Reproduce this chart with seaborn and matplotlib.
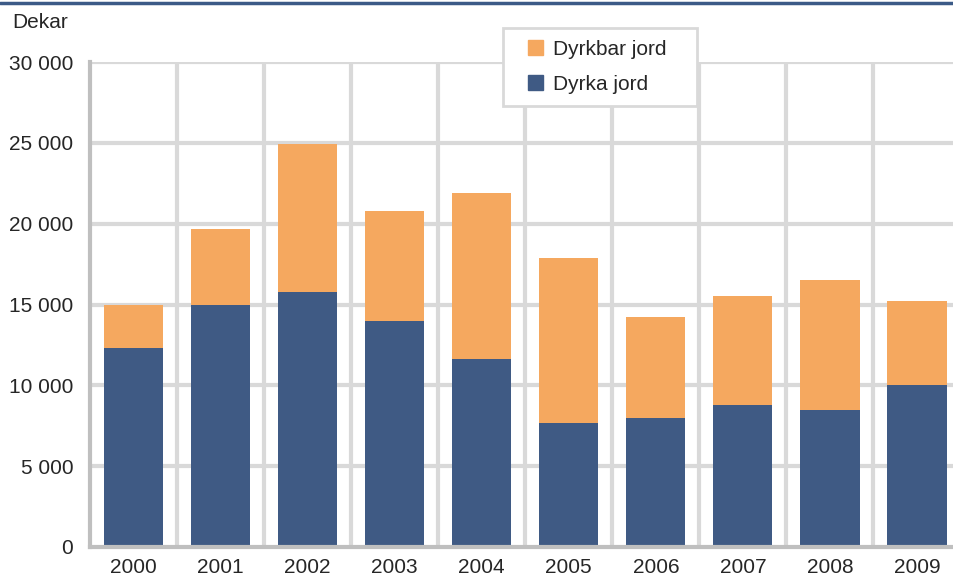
import numpy as np
import pandas as pd
import matplotlib.pyplot as plt
import seaborn as sns
from matplotlib.lines import Line2D
from matplotlib.patches import Patch, Rectangle

years = ["2000", "2001", "2002", "2003", "2004", "2005", "2006", "2007", "2008", "2009"]
dyrka = [12300, 15000, 15800, 14000, 11600, 7700, 8000, 8800, 8500, 10000]
dyrkbar = [2700, 4700, 9100, 6800, 10300, 10200, 6200, 6700, 8000, 5200]
yticks = [0, 5000, 10000, 15000, 20000, 25000, 30000]
ytick_labels = ["0", "5 000", "10 000", "15 000", "20 000", "25 000", "30 000"]

dark = "#3f5a84"
orange = "#f5a85f"

sns.set_style("white")
plt.rcParams["font.family"] = ["Liberation Sans", "DejaVu Sans"]
fs = 15
W, H = 954, 579

df = pd.DataFrame({"year": years, "dyrka": dyrka, "dyrkbar": dyrkbar})
df["total"] = df["dyrka"] + df["dyrkbar"]

fig = plt.figure(figsize=(W / 100, H / 100), dpi=100)
ax = fig.add_axes([90 / W, 32 / H, 870.5 / W, 485 / H])

# stacked bars: total first, then the lower part on top of it
sns.barplot(data=df, x="year", y="total", color=orange, width=0.68, saturation=1,
            linewidth=0, ax=ax, zorder=3)
sns.barplot(data=df, x="year", y="dyrka", color=dark, width=0.68, saturation=1,
            linewidth=0, ax=ax, zorder=4)

ax.set_ylim(0, 30000)
ax.set_xlim(-0.5, 9.5)
ax.set_yticks(yticks)
ax.set_yticklabels(ytick_labels)
ax.set_xlabel("")
ax.set_ylabel("")
ax.tick_params(axis="both", length=0, labelsize=fs)
ax.tick_params(axis="y", pad=12)
ax.tick_params(axis="x", pad=8)

# grid
grid_c = "#d9d9d9"
for y in yticks[1:]:
    ax.axhline(y, color=grid_c, lw=3, zorder=1)
for x in np.arange(0.5, 9.5, 1):
    ax.axvline(x, color=grid_c, lw=3, zorder=1)

for s in ["top", "right"]:
    ax.spines[s].set_visible(False)
for s in ["left", "bottom"]:
    ax.spines[s].set_color("#bfbfbf")
    ax.spines[s].set_linewidth(3)
    ax.spines[s].set_zorder(5)

fig.text(12 / W, 1 - 22 / H, "Dekar", fontsize=fs, va="center", ha="left")

# top border line
fig.add_artist(Line2D([0, 1], [1 - 3 / H, 1 - 3 / H], color="#3c5a87", lw=2.5,
                      transform=fig.transFigure))

# legend box drawn by hand so it can be wider than the entries
ax.add_patch(Rectangle((503 / W, 1 - 106 / H), 194 / W, 78 / H, transform=fig.transFigure,
                       facecolor="white", edgecolor="#d9d9d9", lw=2, zorder=9, clip_on=False))
handles = [Patch(color=orange, label="Dyrkbar jord"), Patch(color=dark, label="Dyrka jord")]
leg = ax.legend(handles=handles, loc="upper left", bbox_to_anchor=(528 / W, 1 - 40 / H),
                bbox_transform=fig.transFigure, fontsize=fs, frameon=False,
                handlelength=0.7, handleheight=0.7, handletextpad=0.5, labelspacing=0.75,
                borderpad=0, borderaxespad=0)
leg.set_zorder(10)

fig.savefig("out.png", dpi=100)
